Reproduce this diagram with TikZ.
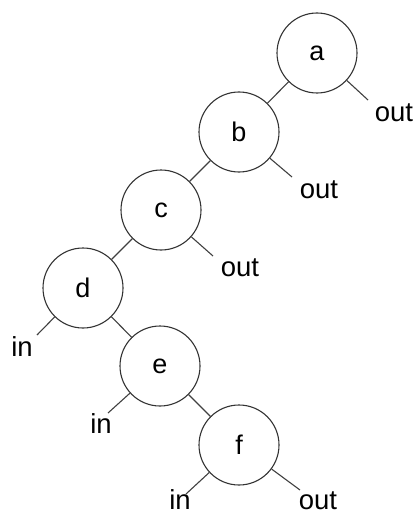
\documentclass[tikz,border=0pt]{standalone}
\usepackage{fontspec}
\setmainfont{Liberation Sans}
\begin{document}
\begin{tikzpicture}[x=1pt,y=-1pt,
  tnode/.style={draw=black!80,circle,minimum size=80pt,inner sep=0pt,line width=1.1pt,font=\fontsize{27}{30}\selectfont},
  lbl/.style={inner sep=0pt,font=\fontsize{27.5}{30}\selectfont},
  edge/.style={draw=black!75,line width=1.1pt}]
\useasboundingbox (0,0) rectangle (418,516);
\node[tnode] (a) at (317,53) {a};
\node[tnode] (b) at (239,132) {b};
\node[tnode] (c) at (161,210) {c};
\node[tnode] (d) at (83,288) {d};
\node[tnode] (e) at (160,366) {e};
\node[tnode] (f) at (239,445) {f};
\coordinate (ao) at (368,100);
\coordinate (bo) at (292,177);
\coordinate (co) at (213,256);
\coordinate (di) at (37,335);
\coordinate (ei) at (108,413);
\coordinate (fi) at (186,494);
\coordinate (fo) at (300,490);
\node[lbl] (aol) at (394,113) {out};
\node[lbl] (bol) at (319,190) {out};
\node[lbl] (col) at (240,268) {out};
\node[lbl] (dil) at (22,347) {in};
\node[lbl] (eil) at (101,424) {in};
\node[lbl] (fil) at (180,500) {in};
\node[lbl] (fol) at (318,501) {out};
\draw[edge] (a) -- (b);
\draw[edge] (b) -- (c);
\draw[edge] (c) -- (d);
\draw[edge] (d) -- (e);
\draw[edge] (e) -- (f);
\draw[edge] (a) -- (ao);
\draw[edge] (b) -- (bo);
\draw[edge] (c) -- (co);
\draw[edge] (d) -- (di);
\draw[edge] (e) -- (ei);
\draw[edge] (f) -- (fi);
\draw[edge] (f) -- (fo);
\end{tikzpicture}
\end{document}
